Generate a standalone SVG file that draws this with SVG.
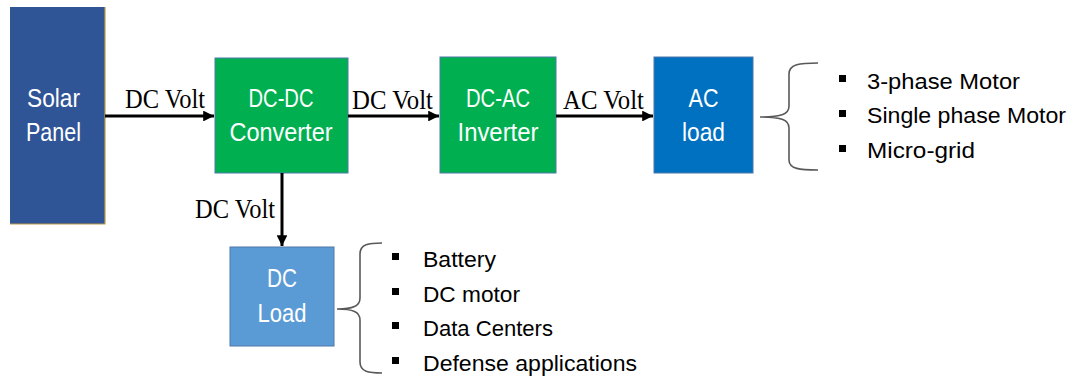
<svg xmlns="http://www.w3.org/2000/svg" width="1073" height="377" viewBox="0 0 1073 377">
<style>
.box{stroke:#4F79A8;stroke-width:1}
.bt{font-family:"Liberation Sans",Arial,sans-serif;font-size:25px;fill:#ffffff;text-anchor:middle}
.lbl{font-family:"Liberation Serif","Times New Roman",serif;font-size:27px;fill:#000000}
.li{font-family:"Liberation Sans",Arial,sans-serif;font-size:22px;fill:#000000}
.conn{stroke:#000000;stroke-width:3;fill:none}
.brace{stroke:#595959;stroke-width:1.6;fill:none}
</style>
<defs>
<marker id="ah" viewBox="0 0 10 10" refX="10" refY="5" markerWidth="3.6" markerHeight="3.6" orient="auto" markerUnits="strokeWidth">
<path d="M0,0 L10,5 L0,10 z" fill="#000000"/>
</marker>
</defs>
<rect width="1073" height="377" fill="#ffffff"/>
<g id="solar-panel">
<rect x="10" y="7" width="95" height="217" fill="#2F5597"/>
<path d="M105,7 L105,224 L10,224" stroke="#C09A4A" stroke-width="1.2" fill="none"/>
<text class="bt" x="53.5" y="107" textLength="53" lengthAdjust="spacingAndGlyphs">Solar</text>
<text class="bt" x="53.5" y="141" textLength="55" lengthAdjust="spacingAndGlyphs">Panel</text>
</g>
<g id="dc-dc-converter">
<rect class="box" x="215" y="58" width="133" height="115" fill="#00B050"/>
<text class="bt" x="281" y="107" textLength="65" lengthAdjust="spacingAndGlyphs">DC-DC</text>
<text class="bt" x="281" y="141" textLength="103" lengthAdjust="spacingAndGlyphs">Converter</text>
</g>
<g id="dc-ac-inverter">
<rect class="box" x="440" y="57" width="116" height="116" fill="#00B050"/>
<text class="bt" x="498" y="107" textLength="64" lengthAdjust="spacingAndGlyphs">DC-AC</text>
<text class="bt" x="498" y="141" textLength="81" lengthAdjust="spacingAndGlyphs">Inverter</text>
</g>
<g id="ac-load">
<rect class="box" x="654" y="57" width="99" height="116" fill="#0070C0"/>
<text class="bt" x="703.5" y="107" textLength="30" lengthAdjust="spacingAndGlyphs">AC</text>
<text class="bt" x="703.5" y="141" textLength="43" lengthAdjust="spacingAndGlyphs">load</text>
</g>
<g id="dc-load">
<rect class="box" x="230" y="247" width="104" height="99" fill="#5B9BD5"/>
<text class="bt" x="282" y="287" textLength="30" lengthAdjust="spacingAndGlyphs">DC</text>
<text class="bt" x="282" y="322" textLength="49" lengthAdjust="spacingAndGlyphs">Load</text>
</g>
<g id="ac-load-list">
<path class="brace" d="M818,63 C800,63 789,64 789,74 L789,106 C789,114 782,117 760,117 C782,117 789,120 789,128 L789,160 C789,169 800,170 818,170"/>
<rect x="839" y="75" width="7" height="7" fill="#000000"/>
<rect x="839" y="110" width="7" height="7" fill="#000000"/>
<rect x="839" y="145" width="7" height="7" fill="#000000"/>
<text class="li" x="867" y="89" textLength="153" lengthAdjust="spacingAndGlyphs">3-phase Motor</text>
<text class="li" x="867" y="123" textLength="199" lengthAdjust="spacingAndGlyphs">Single phase Motor</text>
<text class="li" x="867" y="158" textLength="108" lengthAdjust="spacingAndGlyphs">Micro-grid</text>
</g>
<g id="dc-load-list">
<path class="brace" d="M382,243 C369,243 360,244 360,254 L360,298 C360,306 353,309 337,309 C353,309 360,312 360,320 L360,362 C360,372 369,373 382,373"/>
<rect x="392" y="253" width="7" height="7" fill="#000000"/>
<rect x="392" y="288" width="7" height="7" fill="#000000"/>
<rect x="392" y="322" width="7" height="7" fill="#000000"/>
<rect x="392" y="357" width="7" height="7" fill="#000000"/>
<text class="li" x="423" y="267" textLength="73" lengthAdjust="spacingAndGlyphs">Battery</text>
<text class="li" x="423" y="302" textLength="97" lengthAdjust="spacingAndGlyphs">DC motor</text>
<text class="li" x="423" y="336" textLength="130" lengthAdjust="spacingAndGlyphs">Data Centers</text>
<text class="li" x="423" y="371" textLength="214" lengthAdjust="spacingAndGlyphs">Defense applications</text>
</g>
<g id="connectors">
<line class="conn" x1="105" y1="116" x2="214" y2="116" marker-end="url(#ah)"/>
<line class="conn" x1="348" y1="116" x2="439" y2="116" marker-end="url(#ah)"/>
<line class="conn" x1="556" y1="116" x2="653" y2="116" marker-end="url(#ah)"/>
<line class="conn" x1="282" y1="173" x2="282" y2="246" marker-end="url(#ah)"/>
<text class="lbl" x="125" y="108" textLength="80" lengthAdjust="spacingAndGlyphs">DC Volt</text>
<text class="lbl" x="352" y="109" textLength="81" lengthAdjust="spacingAndGlyphs">DC Volt</text>
<text class="lbl" x="563" y="109" textLength="81" lengthAdjust="spacingAndGlyphs">AC Volt</text>
<text class="lbl" x="195" y="218" textLength="80" lengthAdjust="spacingAndGlyphs">DC Volt</text>
</g>
</svg>
